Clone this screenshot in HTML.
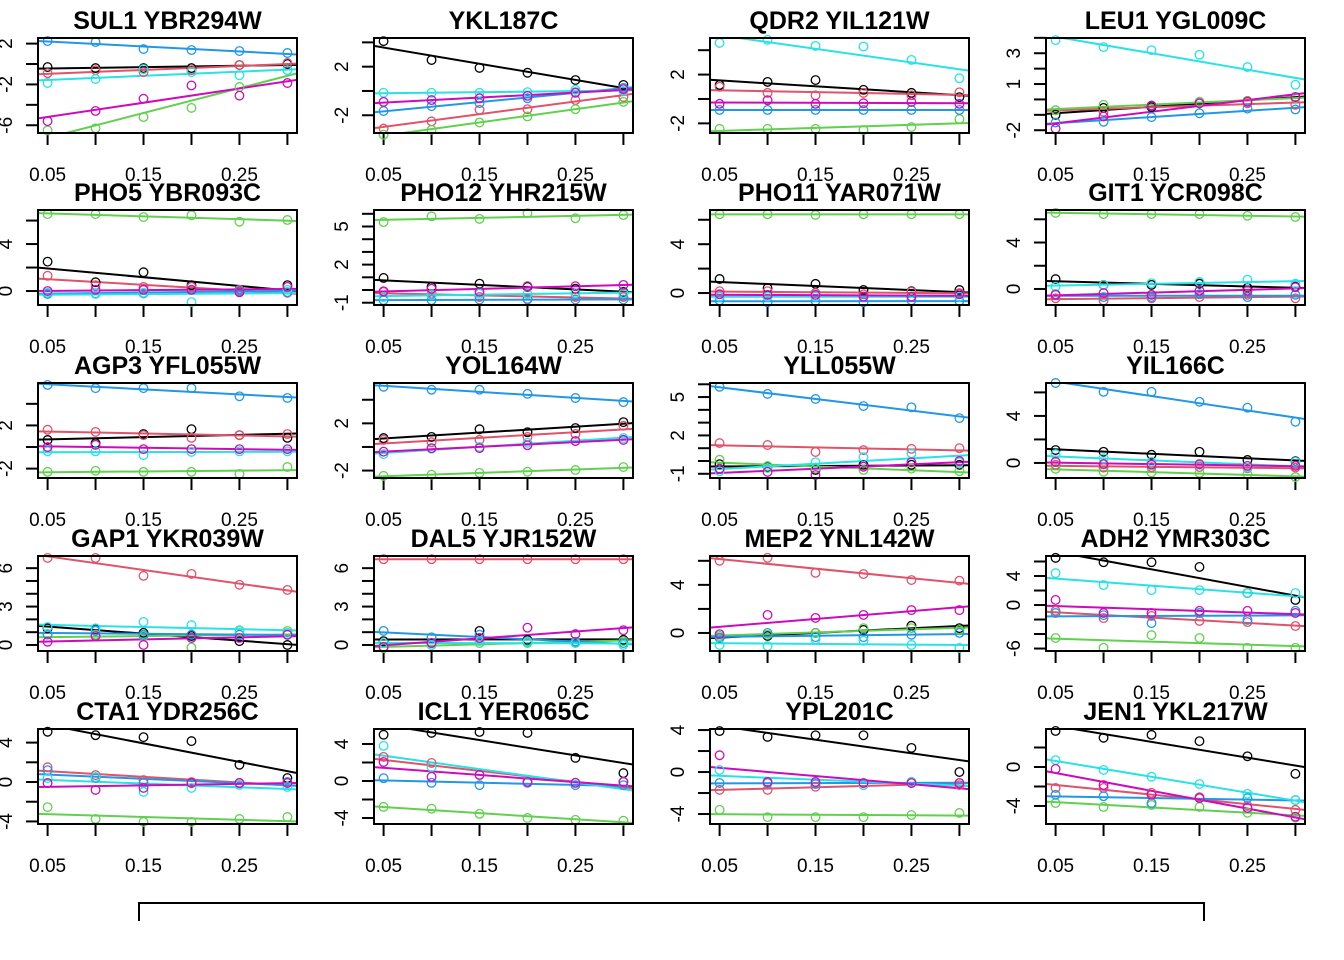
<!DOCTYPE html>
<html><head><meta charset="utf-8"><style>
html,body{margin:0;padding:0;background:#fff;}
svg{display:block;font-family:"Liberation Sans",Arial,sans-serif;}
</style></head><body>
<svg id="chart" width="1344" height="960" viewBox="0 0 1344 960" xmlns="http://www.w3.org/2000/svg"></svg>
<script>
const xValues=[0.05,0.10,0.15,0.20,0.25,0.30];
const xTicks=[0.05,0.10,0.15,0.20,0.25,0.30];
const xTickLabels=["0.05","","0.15","","0.25",""];
const seriesNames=["black","red","green","blue","cyan","magenta"];
const seriesColors=["#000000","#DF536B","#61D04F","#2297E6","#28E2E5","#CD0BBC"];
const panelTitles=["SUL1 YBR294W","YKL187C","QDR2 YIL121W","LEU1 YGL009C","PHO5 YBR093C","PHO12 YHR215W","PHO11 YAR071W","GIT1 YCR098C","AGP3 YFL055W","YOL164W","YLL055W","YIL166C","GAP1 YKR039W","DAL5 YJR152W","MEP2 YNL142W","ADH2 YMR303C","CTA1 YDR256C","ICL1 YER065C","YPL201C","JEN1 YKL217W"];
const panelYLim=[[-6.76,2.55],[-3.46,4.36],[-2.79,5],[-2.18,3.99],[-1.19,6.9],[-1.18,6.3],[-0.98,6.8],[-1.38,6.8],[-2.87,5.93],[-2.63,5.42],[-1.33,6.1],[-1.28,6.8],[-0.47,6.95],[-0.47,6.95],[-1.5,6.4],[-6.34,6.76],[-4.26,5.38],[-4.65,5.62],[-4.95,4.1],[-5.85,3.9]];
const panelYTicks=[[2,0,-2,-4,-6],[4,2,0,-2],[4,2,0,-2],[4,3,2,1,0,-1,-2],[6,4,2,0],[6,5,4,3,2,1,0,-1],[6,4,2,0],[6,4,2,0],[4,2,0,-2],[4,2,0,-2],[6,5,4,3,2,1,0,-1],[6,4,2,0],[6,5,4,3,2,1,0],[6,5,4,3,2,1,0],[6,4,2,0],[6,4,2,0,-2,-4,-6],[4,2,0,-2,-4],[4,2,0,-2,-4],[4,2,0,-2,-4],[2,0,-2,-4]];
const panelYLabels=[[2,-2,-6],[2,-2],[2,-2],[3,1,-2],[4,0],[5,2,-1],[4,0],[4,0],[2,-2],[2,-2],[5,2,-1],[4,0],[6,3,0],[6,3,0],[4,0],[4,0,-6],[4,0,-4],[4,0,-4],[4,0,-4],[0,-4]];
// values per panel: [black, red, green, blue, cyan, magenta]
const panelValues=[
[[-.3,-.4,-.4,-.4,-.1,0],[-.9,-.6,-.8,-.6,-.1,.1],[-6.5,-6.3,-5.2,-4.3,-2.25,-.6],[2.25,2.15,1.47,1.37,1.27,1.08],[-1.86,-1.47,-.5,-.8,-1.1,-.6],[-5.6,-4.6,-3.4,-2.1,-3.1,-1.86]],
[[4.1,2.55,1.9,1.5,.9,.5],[-3.1,-2.5,-1.55,-1.5,-.75,-.5],[-3.6,-3.2,-2.6,-2.1,-1.5,-.9],[-1.65,-1.25,-1,-.6,-.1,.25],[-.15,-.15,-.15,-.1,.1,0],[-.9,-.75,-.6,-.4,-.15,.15]],
[[1.15,1.4,1.55,.75,.5,.15],[1,.5,.3,.5,.3,.55],[-2.45,-2.45,-2.45,-2.55,-2.3,-1.65],[-.9,-.9,-.9,-.9,-.9,-.9],[4.6,4.85,4.35,4.3,3.2,1.7],[-.4,-.1,-.4,-.35,-.25,-.4]],
[[-1,-.55,-.5,-.25,-.1,.15],[-.7,-.8,-.4,-.25,-.25,-.35],[-.7,-.35,-.4,-.15,-.1,.1],[-1.5,-1.45,-1.15,-.9,-.6,-.65],[3.85,3.4,3.2,2.9,2.1,.95],[-1.9,-1.1,-.4,-.25,-.15,.15]],
[[2.5,.75,1.6,.5,.1,.5],[1.3,.5,.35,.35,.1,-.15],[6.55,6.55,6.3,6.45,5.9,6.05],[-.25,-.2,-.2,.1,0,-.1],[-.15,-.25,-.15,-.95,-.1,.1],[0,.1,.1,.1,-.1,.35]],
[[.95,.25,.5,.25,.1,-.15],[-.15,-.3,-.55,-.7,-.55,-.55],[5.35,5.8,5.6,6.05,5.65,5.9],[-.8,-.8,-.75,-.75,-.75,-.75],[-.55,-.4,-.3,-.3,-.25,-.25],[-.1,.1,-.15,.3,.3,.4]],
[[1.15,.4,.75,.25,.15,.25],[.15,.15,0,-.1,.1,0],[6.45,6.45,6.4,6.45,6.45,6.45],[-.6,-.75,-.65,-.75,-.6,-.65],[-.3,-.3,-.3,-.3,-.3,-.3],[-.1,-.15,-.15,-.3,-.3,-.1]],
[[.85,.35,.35,.45,.1,.2],[-.8,-1,-.8,-.7,-.5,-.8],[6.55,6.45,6.45,6.45,6.3,6.2],[-.45,-.7,-.7,-.45,-.7,-.5],[.2,.35,.5,.6,.8,.45],[-.5,-.35,-.5,-.15,-.15,.15]],
[[.65,.35,1.2,1.65,1.1,.85],[1.6,1.4,1.1,.85,1.1,1.2],[-2.3,-2.2,-2.3,-2.3,-2.5,-1.85],[5.75,5.45,5.45,5.45,4.7,4.55],[-.4,-.4,-.75,-.45,-.4,-.4],[0,.2,-.2,-.2,-.2,-.2]],
[[.75,.85,1.5,1.25,1.6,2.1],[.6,.4,.6,.85,1.1,1.8],[-2.45,-2.35,-2.2,-2.1,-1.95,-1.7],[5.1,4.85,4.85,4.5,4.15,3.8],[-.6,-.15,0,.35,.5,.75],[-.4,-.1,-.1,.15,.5,.6]],
[[-.25,-.45,-.7,-.3,-.3,-.3],[1.4,1.25,.7,.85,.95,1],[.1,-.4,-.6,-.7,-.6,-.8],[5.8,5.25,4.85,4.3,4.2,3.35],[-.8,-.55,-.1,.3,.6,-.1],[-.6,-.85,-1.1,-.45,-.1,0]],
[[1.1,.95,.7,.95,.25,.15],[-.15,-.4,-.35,-.35,-.45,-.4],[-.5,-.75,-.8,-.85,-.95,-1.2],[6.8,6.05,6.05,5.2,4.7,3.5],[.75,.4,.1,-.15,-.4,.1],[.1,-.1,-.15,-.1,-.25,-.25]],
[[1.3,1.25,.95,.7,.3,0],[6.8,6.8,5.4,5.55,4.7,4.3],[.8,.8,.7,-.2,1.1,1.1],[.85,1.1,.8,.8,.8,.8],[1.4,1.3,1.8,1.55,1.15,.95],[.25,.7,0,.55,.55,.8]],
[[.3,.15,1.1,.4,.25,.4],[6.7,6.7,6.7,6.7,6.7,6.7],[-.25,0,.15,.15,.25,.3],[1.1,.6,.8,.3,.25,.15],[.15,0,.3,.25,.15,0],[-.15,.15,.55,1.35,.85,1.15]],
[[-.4,-.25,0,.25,.6,.4],[6,6.25,5,4.9,4.4,4.35],[-.25,-.15,0,.4,.4,.25],[-.4,0,-.35,-.35,-.15,0],[-1,-1.1,-.55,-.65,-1,-1.25],[-.1,1.5,1.25,1.5,1.9,1.9]],
[[6.5,5.9,5.9,5.25,1.65,.7],[-.8,-1.8,-1.5,-2.2,-2.35,-2.9],[-4.55,-5.9,-4.15,-4.55,-5.9,-5.9],[-1.1,-1.4,-2.5,-1.1,-2.05,-.8],[4.4,2.75,2.05,2.05,1.65,1.65],[.7,-1.1,-1.1,-.8,-.8,-1.1]],
[[5.1,4.75,4.55,4.15,1.75,.4],[1.5,.7,.2,0,-.1,0],[-2.55,-3.75,-4.05,-4.05,-3.75,-3.55],[1.2,.4,-.1,-.1,-.1,0],[.4,.5,-1,-.6,-.3,-.5],[-.1,-.8,-.6,-.1,-.1,-.1]],
[[5,5.2,5.3,5.2,2.5,.85],[2.6,1.95,.65,-.1,-.2,-.1],[-2.8,-3,-3.55,-4,-4.2,-4.3],[.3,-.2,-.45,-.2,-.45,-.45],[3.8,1.5,.65,-.1,-.2,-.1],[2.05,.45,.65,-.1,-.2,-.1]],
[[3.9,3.35,3.5,3.5,2.3,0],[-1.7,-1.7,-1.4,-1.25,-1.05,-1.25],[-3.6,-4.3,-4.3,-4.3,-4.1,-3.9],[-1.05,-1.05,-1.15,-1.05,-.95,-1.05],[.2,-.95,-.95,-1.25,-.95,-1.05],[1.6,-.95,-.95,-1.05,-1.05,-1.05]],
[[3.7,3,3.3,2.65,1.1,-.7],[-2.15,-2.15,-2.65,-3.1,-4,-4.4],[-3.7,-4.1,-3.9,-4.1,-4.7,-5.2],[-2.85,-3,-3.7,-3.2,-3.2,-3.4],[.7,-.3,-1,-1.75,-2.75,-3.4],[-.2,-1.85,-2.85,-3.2,-4.2,-5.1]]
];
const legendLabels=["Glucose","Ammonia","Phosphate","Sulfate","Leucine","Uracil"];

const NS="http://www.w3.org/2000/svg";
const svg=document.getElementById('chart');
function mk(tag,attrs,parent){const e=document.createElementNS(NS,tag);for(const k in attrs)e.setAttribute(k,attrs[k]);(parent||svg).appendChild(e);return e;}
const colLeft=[38,374,710,1046], rowTop=[38,210,383,556,729], PW=259, PH=95;
const XMIN=0.04, XMAX=0.31;
const defs=mk('defs',{});
panelTitles.forEach((title,p)=>{
  const c=p%4, r=Math.floor(p/4);
  const L=colLeft[c], T=rowTop[r];
  const [lo,hi]=panelYLim[p];
  const sx=v=>L+(v-XMIN)/(XMAX-XMIN)*PW;
  const sy=v=>T+(hi-v)/(hi-lo)*PH;
  const g=mk('g',{});
  
  
  const cp=mk('clipPath',{id:'cp'+p},defs);
  mk('rect',{x:L,y:T,width:PW,height:PH},cp);
  const t=mk('text',{x:L+PW/2,y:T-9,'text-anchor':'middle','font-size':25,'font-weight':'bold',fill:'#000'},g);
  t.textContent=title;
  
  
  xTicks.forEach((xv,i)=>{
    const tk=mk('line',{x1:sx(xv),x2:sx(xv),y1:T+PH,y2:T+PH+12,stroke:'#000','stroke-width':2},g);
    
    
    if(xTickLabels[i]){const tl=mk('text',{x:sx(xv),y:T+PH+48,'text-anchor':'middle','font-size':19,fill:'#000'},g);tl.textContent=xTickLabels[i];
      
      }
  });
  panelYTicks[p].forEach(yv=>{
    const tk=mk('line',{x1:L-12,x2:L,y1:sy(yv),y2:sy(yv),stroke:'#000','stroke-width':2},g);
    
    
  });
  panelYLabels[p].forEach(yv=>{
    const x=L-26, y=sy(yv);
    const tl=mk('text',{x:x,y:y,'text-anchor':'middle','font-size':19,fill:'#000',transform:`rotate(-90 ${x} ${y})`},g);
    tl.textContent=String(yv);
    
    
  });
  const plot=mk('g',{'clip-path':`url(#cp${p})`},g);
  panelValues[p].forEach((vals,s)=>{
    const col=seriesColors[s];
    const n=xValues.length;let mx=0,my=0;for(let i=0;i<n;i++){mx+=xValues[i];my+=vals[i];}mx/=n;my/=n;
    let sxy=0,sxx=0;for(let i=0;i<n;i++){sxy+=(xValues[i]-mx)*(vals[i]-my);sxx+=(xValues[i]-mx)**2;}
    const b=sxy/sxx,a=my-b*mx;
    const ln=mk('line',{x1:sx(XMIN),y1:sy(a+b*XMIN),x2:sx(XMAX),y2:sy(a+b*XMAX),stroke:col,'stroke-width':2},plot);
    
    
    vals.forEach((v,i)=>{
      const pt=mk('circle',{cx:sx(xValues[i]),cy:sy(v),r:4.3,fill:'none',stroke:col,'stroke-width':1.3},g);
      
      
    });
  });
  const fr=mk('rect',{x:L,y:T,width:PW,height:PH,fill:'none',stroke:'#000','stroke-width':2},g);
  
  
});
const lg=mk('g',{});


mk('rect',{x:139,y:903,width:1065,height:60,fill:'none',stroke:'#000','stroke-width':2},lg);
const lx=[240,430,610,770,945,1115];
legendLabels.forEach((s,i)=>{const t=mk('text',{x:lx[i],y:935,'text-anchor':'middle','font-size':19,fill:'#000'},lg);t.textContent=s;
  
  });
mk('rect',{x:0,y:921,width:1344,height:39,fill:'#fff'},svg);
</script>
</body></html>
